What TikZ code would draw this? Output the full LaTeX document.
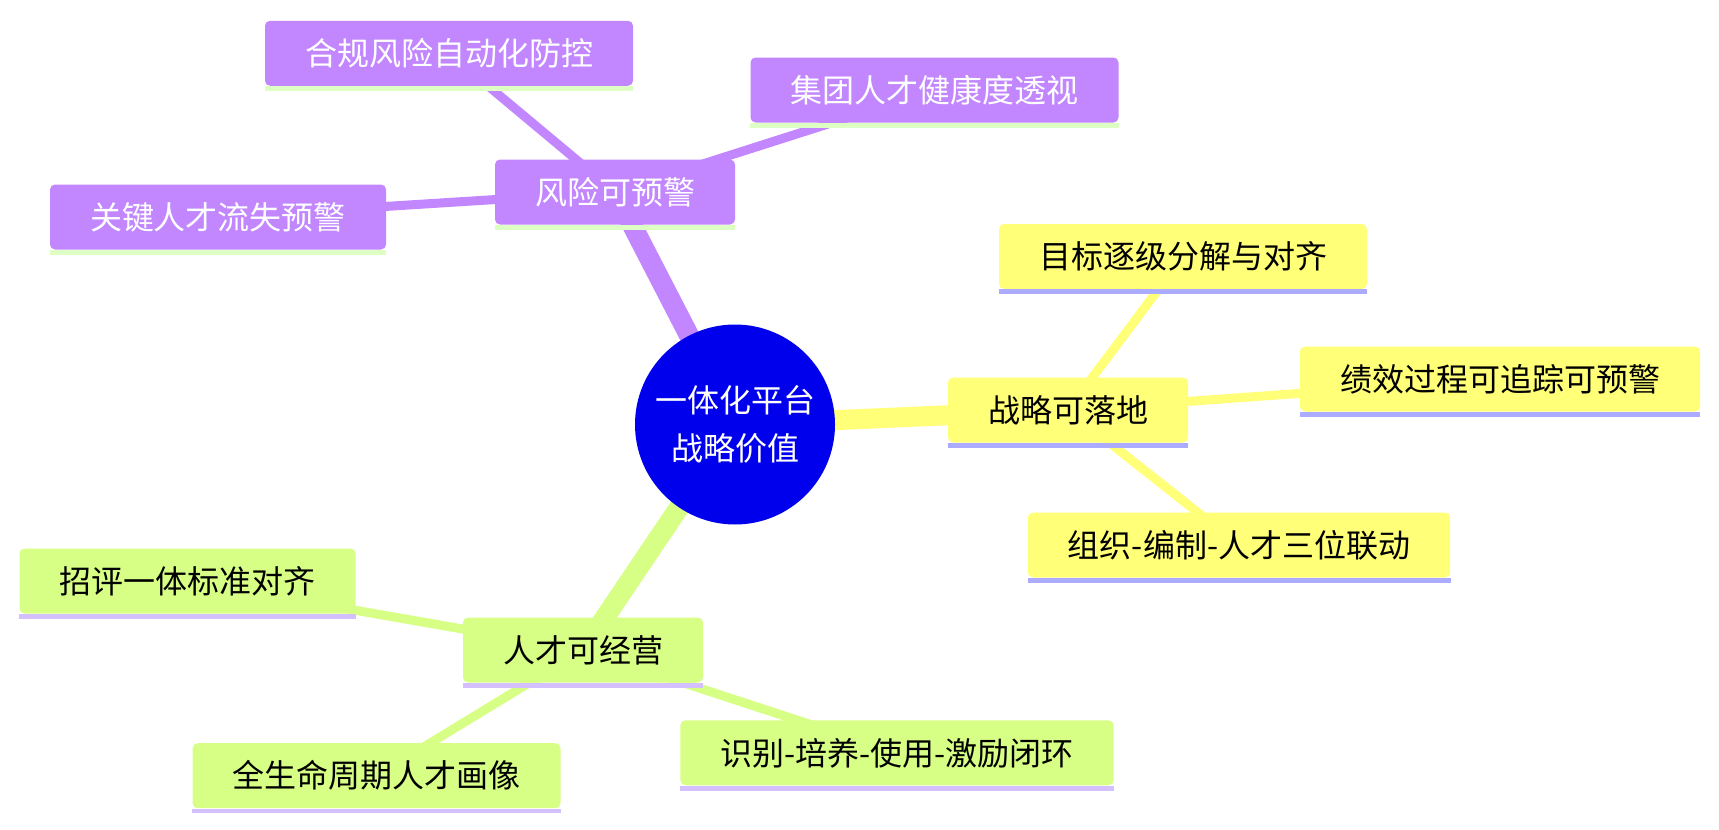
\documentclass[tikz,border=0pt]{standalone}
\usepackage{fontspec}
\setmainfont{Noto Sans CJK SC}
\usepackage{tikz}
\usetikzlibrary{backgrounds}
\usepackage{xcolor}
\definecolor{purp}{HTML}{C286FF}
\definecolor{yell}{HTML}{FFFF78}
\definecolor{lime}{HTML}{D7FF86}
\definecolor{rootblue}{HTML}{0000EC}
\definecolor{purpline}{HTML}{DDFFC4}
\definecolor{yellline}{HTML}{ABABFF}
\definecolor{limeline}{HTML}{D4BFFF}

\begin{document}
\begin{tikzpicture}[x=0.5pt,y=-0.5pt, every node/.style={font=\fontsize{16}{24}\selectfont}]
\tikzstyle{box}=[rounded corners=2.5pt, minimum height=32.5pt, inner xsep=20pt, inner ysep=0pt]
\tikzstyle{pbox}=[box, fill=purp, text=white]
\tikzstyle{ybox}=[box, fill=yell]
\tikzstyle{gbox}=[box, fill=lime]
\tikzstyle{main}=[line width=10pt]
\tikzstyle{sub}=[line width=4.5pt]
\useasboundingbox (0,0) rectangle (1719,830);
\node[circle, fill=rootblue, text=white, minimum size=100pt, inner sep=0pt, align=center] (root) at (735,424.5) {一体化平台\\战略价值};
% risk branch
\node[pbox] (risk) at (615,192) {风险可预警};
\node[pbox] (comp) at (449,53.3) {合规风险自动化防控};
\node[pbox] (group) at (934.5,90) {集团人才健康度透视};
\node[pbox] (loss) at (218,217) {关键人才流失预警};
% strategy branch
\node[ybox] (strat) at (1068,410) {战略可落地};
\node[ybox] (goal) at (1183,256.5) {目标逐级分解与对齐};
\node[ybox] (perf) at (1500,379) {绩效过程可追踪可预警};
\node[ybox] (org) at (1239,545) {组织-编制-人才三位联动};
% talent branch
\node[gbox] (tal) at (583,650) {人才可经营};
\node[gbox] (rec) at (187.5,581) {招评一体标准对齐};
\node[gbox] (life) at (376.6,775.7) {全生命周期人才画像};
\node[gbox] (loop) at (897,752.8) {识别-培养-使用-激励闭环};
\foreach \n/\c in {risk/purpline, comp/purpline, group/purpline, loss/purpline,
  strat/yellline, goal/yellline, perf/yellline, org/yellline,
  tal/limeline, rec/limeline, life/limeline, loop/limeline}
  \fill[\c] (\n.south west) rectangle ([yshift=-2.4pt]\n.south east);
\begin{scope}[on background layer]
\draw[main, purp] (root.center) -- (risk.center);
\draw[main, yell] (root.center) -- (strat.center);
\draw[main, lime] (root.center) -- (tal.center);
\draw[sub, purp] (risk.center) -- (comp.center);
\draw[sub, purp] (risk.center) -- (group.center);
\draw[sub, purp] (risk.center) -- (loss.center);
\draw[sub, yell] (strat.center) -- (goal.center);
\draw[sub, yell] (strat.center) -- (perf.center);
\draw[sub, yell] (strat.center) -- (org.center);
\draw[sub, lime] (tal.center) -- (rec.center);
\draw[sub, lime] (tal.center) -- (life.center);
\draw[sub, lime] (tal.center) -- (loop.center);
\end{scope}
\end{tikzpicture}
\end{document}
